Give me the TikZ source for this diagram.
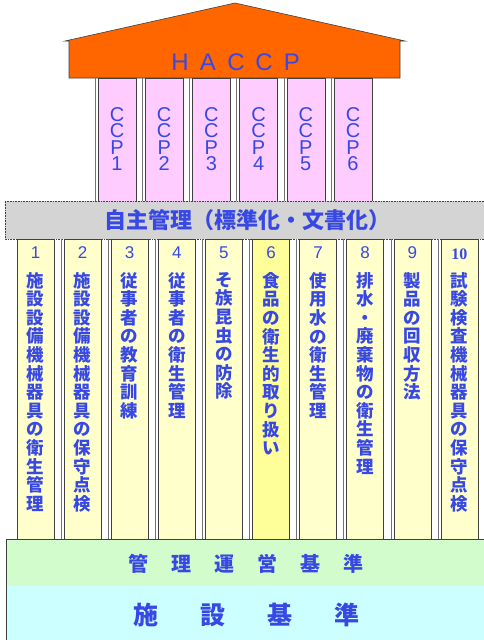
\documentclass[tikz,border=0pt]{standalone}
\usepackage{fontspec}
\setmainfont{Liberation Sans}
\newfontfamily\jp{Noto Sans CJK JP}
\newfontfamily\serifnum{Liberation Serif}
\definecolor{txtblue}{RGB}{55,72,228}
\definecolor{roofor}{RGB}{255,102,0}
\definecolor{pillarpink}{RGB}{255,204,255}
\definecolor{bandgray}{RGB}{212,212,212}
\definecolor{colyel}{RGB}{255,255,204}
\definecolor{colyeltwo}{RGB}{255,255,153}
\definecolor{bandgreen}{RGB}{210,252,204}
\definecolor{bandcyan}{RGB}{204,255,255}
\makeatletter
\newcommand\vstack[2]{\vbox{\baselineskip=#1\relax\lineskiplimit=-20pt\@tfor\vs@c:=#2\do{\hbox to 22pt{\hss\vs@c\hss}}}}
\makeatother
\newcommand\colstack[1]{\vstack{18.6pt}{#1}}
\newcommand\spc[2]{\makebox[#1]{#2}}
\begin{document}
\begin{tikzpicture}[x=1pt,y=-1pt,
  edge/.style={draw=black!75,line width=0.6pt},
  shadowline/.style={draw=black!55,line width=0.5pt},
  ccptext/.style={text=txtblue,inner sep=0pt,anchor=north,font=\fontsize{20}{16.5}\selectfont},
  numtext/.style={text=txtblue,inner sep=0pt,font=\fontsize{17}{17}\selectfont},
  coltext/.style={text=txtblue,inner sep=0pt,anchor=north,font=\jp\bfseries\fontsize{17.5}{18.5}\selectfont}]
\useasboundingbox (0,0) rectangle (484,640);
% roof
\draw[edge,fill=roofor] (69,78) -- (69,41) -- (65,41) -- (235,3) -- (405,41) -- (400,41) -- (400,78) -- cycle;
\node[text=txtblue,inner sep=0pt,font=\fontsize{24}{24}\selectfont] (haccp) at (236,62)
  {\spc{28pt}{H}\spc{28pt}{A}\spc{28pt}{C}\spc{28pt}{C}\spc{28pt}{P}};
% CCP pillars
\foreach \i in {0,...,5}{
  \pgfmathsetmacro{\px}{98+\i*47.2}
  \draw[shadowline] (\px-3,78) -- (\px-3,201);
  \draw[edge,fill=pillarpink] (\px,78) rectangle (\px+38,201);
  \pgfmathtruncatemacro{\n}{\i+1}
  \node[ccptext] (ccp\n) at (\px+19,107) {\vstack{16.5pt}{CCP\n}};
}
% gray band
\fill[bandgray] (5,201) rectangle (484,239);
\draw[edge,densely dotted] (484,201) -- (5,201) -- (5,239) -- (484,239);
\node[text=txtblue,inner sep=0pt,font=\jp\bfseries\fontsize{22}{22}\selectfont] (jishu) at (247,220) {自主管理（標準化・文書化）};
% yellow columns
\foreach \i/\t in {0/施設設備機械器具の衛生管理,1/施設設備機械器具の保守点検,2/従事者の教育訓練,3/従事者の衛生管理,4/そ族昆虫の防除,5/食品の衛生的取り扱い,6/使用水の衛生管理,7/排水・廃棄物の衛生管理,8/製品の回収方法,9/試験検査機械器具の保守点検}{
  \pgfmathsetmacro{\cx}{17+\i*47.1}
  \pgfmathtruncatemacro{\n}{\i+1}
  \ifnum\i>0 \draw[shadowline] (\cx-3,239) -- (\cx-3,539);\fi
  \ifnum\i=5
    \draw[edge,fill=colyeltwo] (\cx,239) rectangle (\cx+37,539);
  \else
    \draw[edge,fill=colyel] (\cx,239) rectangle (\cx+37,539);
  \fi
  \ifnum\i=9
    \node[numtext,font=\serifnum\bfseries\fontsize{16}{16}\selectfont] (num\n) at (\cx+18.5,254) {\n};
  \else
    \node[numtext] (num\n) at (\cx+18.5,253) {\n};
  \fi
  \node[coltext] (col\n) at (\cx+18.5,272) {\expandafter\colstack\expandafter{\t}};
}
% bottom bands
\fill[bandgreen] (6,539) rectangle (484,586);
\draw[edge] (484,539) -- (6,539) -- (6,586) -- (484,586);
\node[text=txtblue,inner sep=0pt,font=\jp\bfseries\fontsize{20}{20}\selectfont] (kanri) at (245.5,564)
  {\spc{43pt}{管}\spc{43pt}{理}\spc{43pt}{運}\spc{43pt}{営}\spc{43pt}{基}\spc{43pt}{準}};
\fill[bandcyan] (6,586) rectangle (484,640);
\draw[edge] (6,586) -- (6,640);
\node[text=txtblue,inner sep=0pt,font=\jp\bfseries\fontsize{25}{25}\selectfont] (shisetsu) at (246.5,615)
  {\spc{67pt}{施}\spc{67pt}{設}\spc{67pt}{基}\spc{67pt}{準}};
\end{tikzpicture}
\end{document}
